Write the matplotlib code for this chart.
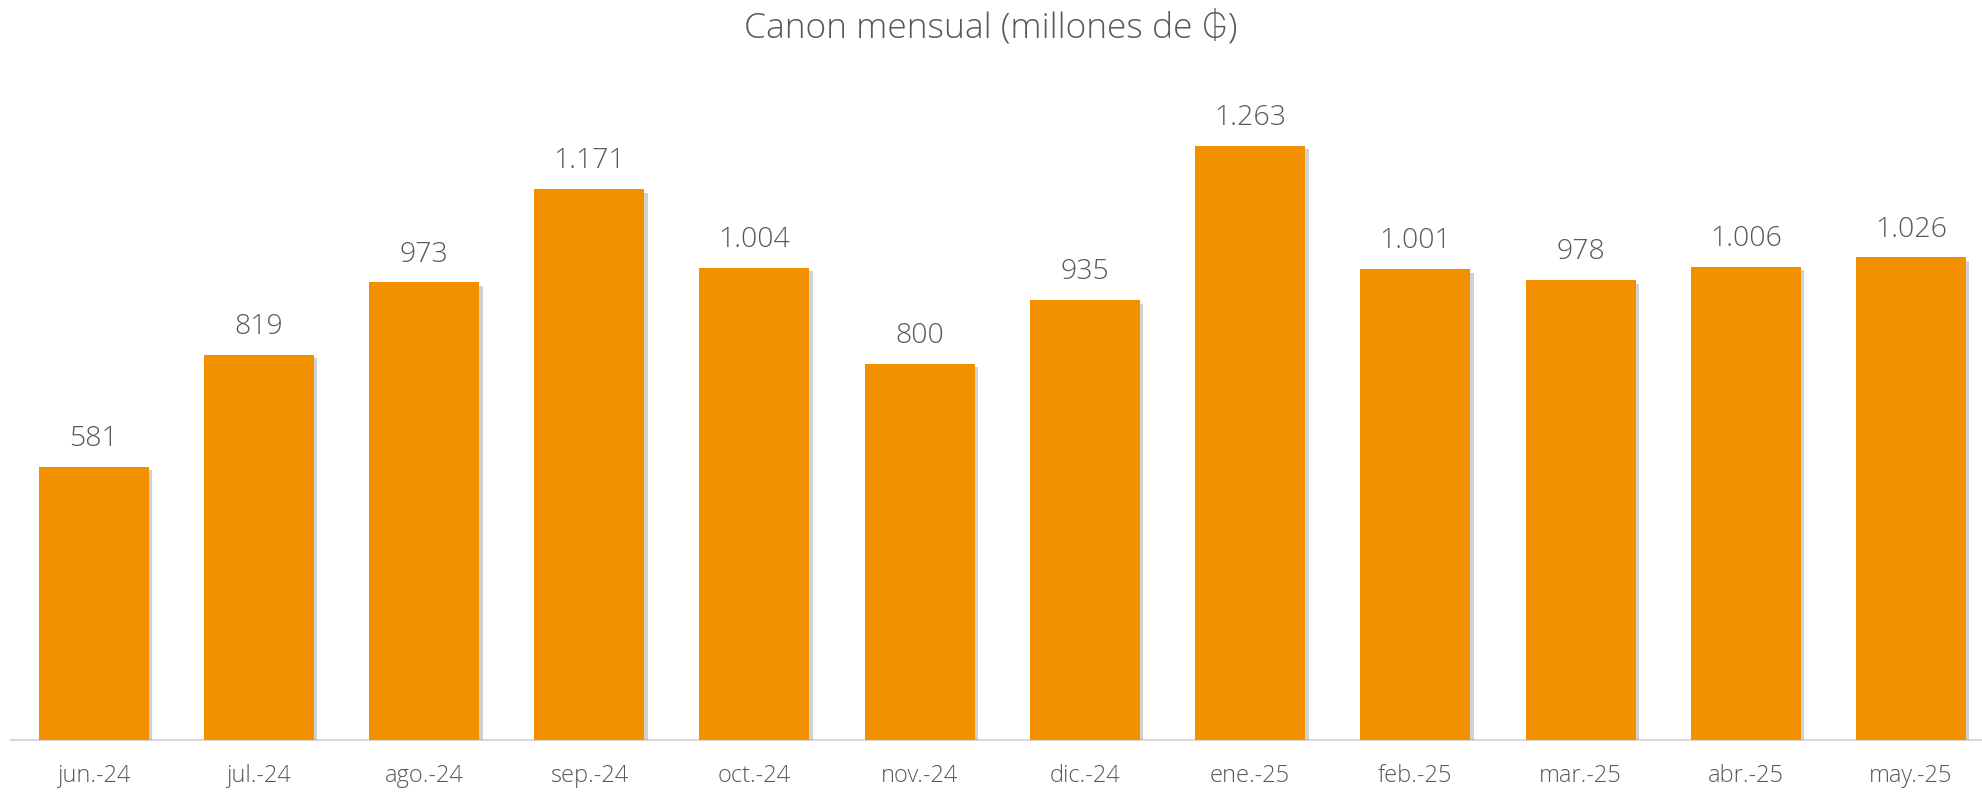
import matplotlib.pyplot as plt
import matplotlib.patheffects as pe

# datos
meses = ['jun.-24', 'jul.-24', 'ago.-24', 'sep.-24', 'oct.-24', 'nov.-24',
         'dic.-24', 'ene.-25', 'feb.-25', 'mar.-25', 'abr.-25', 'may.-25']
canon = [581, 819, 973, 1171, 1004, 800, 935, 1263, 1001, 978, 1006, 1026]
etiquetas = ['581', '819', '973', '1.171', '1.004', '800', '935', '1.263',
             '1.001', '978', '1.006', '1.026']

plt.rcParams['font.family'] = ['Open Sans', 'Inter', 'Roboto', 'Noto Sans', 'DejaVu Sans']
gris = '#595959'

fig = plt.figure(figsize=(19.82, 7.92), dpi=100)
# ejes a mano para calzar con la imagen
ax = fig.add_axes([11 / 1982, 52 / 792, 1971 / 1982, 680 / 792])

x = range(len(meses))
barras = ax.bar(x, canon, width=0.666, color='#F39000', zorder=3)
for b in barras:
    b.set_path_effects([pe.SimplePatchShadow(offset=(2.5, -2.5), shadow_rgbFace='#8c8c8c', alpha=0.4),
                        pe.Normal()])

for xi, v, t in zip(x, canon, etiquetas):
    ax.annotate(t, (xi, v), xytext=(0, 10), textcoords='offset points',
                ha='center', va='bottom', fontsize=20.5, color=gris, fontweight='light')

ax.set_xlim(-0.5, 11.43)
ax.set_ylim(0, 680 / 0.4703)
ax.set_xticks(list(x))
ax.set_xticklabels(meses, fontsize=17, color=gris, fontweight='light')
ax.tick_params(axis='x', length=0, pad=17)
ax.set_yticks([])
for s in ['top', 'right', 'left']:
    ax.spines[s].set_visible(False)
ax.spines['bottom'].set_color('#D9D9D9')
ax.spines['bottom'].set_linewidth(1.5)

fig.text(0.5, 1 - 28 / 792, 'Canon mensual (millones de ₲)', ha='center', va='center',
         fontsize=25.5, color=gris, fontweight='light')

fig.savefig('out.png', dpi=100)
